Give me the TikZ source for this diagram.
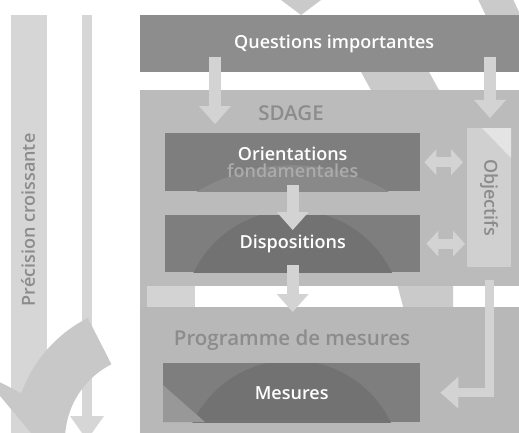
\documentclass[tikz,border=0pt]{standalone}
\usepackage{fontspec}
\IfFontExistsTF{Open Sans SemiBold}{\setsansfont{Open Sans SemiBold}}{%
  \IfFontExistsTF{Open Sans Semibold}{\setsansfont{Open Sans Semibold}}{\setsansfont{Open Sans}}}
\usetikzlibrary{arrows.meta}

\definecolor{qgray}{HTML}{8D8D8D}
\definecolor{sgray}{HTML}{BBBBBB}
\definecolor{pgray}{HTML}{B8B8B8}
\definecolor{dgray}{HTML}{7E7E7E}
\definecolor{domegray}{HTML}{727272}
\definecolor{litedome}{HTML}{898989}
\definecolor{agray}{HTML}{D3D3D3}
\definecolor{bargray}{HTML}{D6D6D6}
\definecolor{bandgray}{HTML}{CACACA}
\definecolor{curvegray}{HTML}{C8C8C8}
\definecolor{objgray}{HTML}{D0D0D0}
\definecolor{titlegray}{HTML}{8C8C8C}
\definecolor{fondgray}{HTML}{ABABAB}

\begin{document}
\begin{tikzpicture}[x=1pt, y=-1pt, font=\sffamily,
    box/.style={inner sep=0pt, anchor=north west, text=white, font=\sffamily\fontsize{18}{20}\selectfont},
    title/.style={text=titlegray, font=\sffamily\fontsize{20.5}{23}\selectfont},
    blockarrow/.style={draw=agray, line width=12pt, -{Triangle[width=32pt,length=18pt,line width=0pt]}},
    botharrow/.style={draw=agray, line width=10pt, {Triangle[width=26pt,length=12pt,line width=0pt]}-{Triangle[width=26pt,length=12pt,line width=0pt]}},
    larrow/.style={draw=agray, line width=9pt, -{Triangle[width=32pt,length=18pt,line width=0pt]}}]
  \useasboundingbox (0,0) rectangle (519,433);
  \clip (0,0) rectangle (519,433);

  % left side
  \fill[bargray] (11,15) rectangle (47,440);
  \node[rotate=90, text=titlegray, font=\sffamily\fontsize{18}{20}\selectfont] (precision) at (28,220) {Précision croissante};
  \coordinate (thintop) at (87,15);
  \coordinate (thinbot) at (87,440);
  \draw[draw=bargray, line width=10pt, -{Triangle[width=34pt,length=24pt,line width=0pt]}] (thintop) -- (thinbot);
  \fill[curvegray] plot[domain=117:160, samples=30] ({150+137*cos(\x)},{440-137*sin(\x)})
    -- (-20,372) -- (62,470)
    -- plot[domain=185:117, samples=30] ({150+85*cos(\x)},{440-85*sin(\x)}) -- cycle;

  % background bands
  \fill[bandgray] (360,70) -- (428,70) -- (440,92) -- (372,92) -- cycle;
  \fill[bandgray] (396,280) -- (453,280) -- (453,310) -- (404,310) -- cycle;
  \fill[bandgray] (476,-5) -- (511,-5) -- (521,16) -- (486,16) -- cycle;
  \fill[sgray] (140,280) rectangle (147,310);
  \fill[agray] (147,280) rectangle (195,310);

  % boxes
  \node[box, fill=qgray, minimum width=379pt, minimum height=57pt] (questions) at (140,15) {\hspace{9pt}Questions importantes};
  \node[box, fill=sgray, minimum width=379pt, minimum height=196pt] (sdage) at (140,90) {};
  \node[box, fill=pgray, minimum width=379pt, minimum height=133pt] (programme) at (140,307) {};
  \node[title] (sdagetitle) at (291,113) {SDAGE};
  \node[title] (progtitle) at (292,340) {Programme de mesures};
  \node[box, fill=dgray, minimum width=255pt, minimum height=58pt, align=center,
    path picture={\fill[litedome] ([yshift=-160pt]path picture bounding box.south) circle[radius=186pt];}]
    (orient) at (165,133) {Orientations\\[-3pt]\textcolor{fondgray}{fondamentales}};
  \node[box, fill=dgray, minimum width=255pt, minimum height=57pt,
    path picture={\fill[domegray] ([yshift=-48pt]path picture bounding box.south) circle[radius=110pt];}]
    (dispo) at (165,215) {Dispositions};
  \node[box, fill=dgray, minimum width=257pt, minimum height=59pt,
    path picture={\fill[domegray] ([yshift=-48pt]path picture bounding box.south) circle[radius=110pt];
      \fill[dgray!80!white] (path picture bounding box.south west) -- ++(0,37pt) -- ++(42pt,-37pt) -- cycle;}]
    (mesures) at (163,363) {Mesures};
  \node[box, fill=objgray, minimum width=44pt, minimum height=139pt,
    path picture={\fill[agray!60!white] (path picture bounding box.north east) -- ++(-29pt,0) -- ++(29pt,-30pt) -- cycle;}]
    (objectifs) at (467,128) {};
  \node[rotate=-90, text=titlegray, font=\sffamily\fontsize{18}{20}\selectfont] (objtext) at (objectifs.center) {Objectifs};

  % arrows
  \coordinate (topin) at (301,-30);
  \draw[blockarrow, draw=bandgray, -{Triangle[width=40pt,length=15pt,line width=0pt]}] (topin) -- (topin |- questions.north);
  \coordinate (qleft) at (215,57);
  \coordinate (qright) at (490,57);
  \draw[blockarrow] (qleft) -- (qleft |- sdagetitle.south);
  \draw[blockarrow] (qright) -- ([yshift=10pt]qright |- objectifs.north);
  \draw[blockarrow] ([yshift=6pt]orient.south) -- ([yshift=-15pt]dispo.north);
  \draw[blockarrow] ([yshift=7pt]dispo.south) -- ([yshift=-5pt]dispo.south |- programme.north);
  \draw[botharrow] ([xshift=4pt]orient.east) -- ([xshift=-4pt]orient.east -| objectifs.west);
  \draw[botharrow] ([xshift=6pt]dispo.east) -- ([xshift=-2pt]dispo.east -| objectifs.west);
  \draw[larrow] ([yshift=-13pt]objectifs.south) |- ([xshift=20pt]mesures.east);
\end{tikzpicture}
\end{document}
